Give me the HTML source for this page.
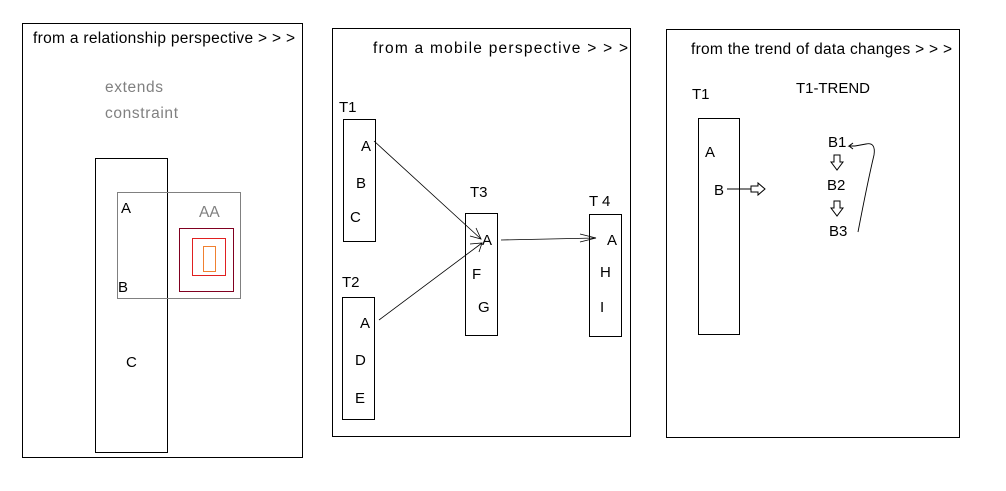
<!DOCTYPE html>
<html><head><meta charset="utf-8"><style>
html,body{margin:0;padding:0;background:#fff;}
svg{display:block;font-family:"Liberation Sans","Noto Sans CJK SC",sans-serif;font-size:15px;}
</style></head><body>
<svg width="1006" height="491" viewBox="0 0 1006 491">
<g fill="none" stroke-width="1">
  <rect x="22.5" y="23.5" width="280" height="434" stroke="#000"/>
  <text x="33" y="43" fill="#000" stroke="none" font-size="15.5" textLength="262" lengthAdjust="spacing">from a relationship perspective &gt; &gt; &gt;</text>
  <text x="105" y="92" fill="#808080" stroke="none" font-size="15.5" textLength="58">extends</text>
  <text x="105" y="118" fill="#808080" stroke="none" font-size="15.5" textLength="73">constraint</text>
  <rect x="95.5" y="158.5" width="72" height="294" stroke="#000"/>
  <rect x="117.5" y="192.5" width="123" height="106" stroke="#808080"/>
  <text x="121" y="213" fill="#000" stroke="none">A</text>
  <text x="118" y="292" fill="#000" stroke="none">B</text>
  <text x="126" y="367" fill="#000" stroke="none">C</text>
  <text x="199" y="217" fill="#808080" stroke="none" font-size="15.5">AA</text>
  <rect x="179.5" y="228.5" width="54" height="63" stroke="#800020"/>
  <rect x="192.5" y="238.5" width="33" height="37" stroke="#e02020"/>
  <rect x="203.5" y="246.5" width="12" height="25" stroke="#f08030"/>
</g>
<g fill="none">
  <rect x="332.5" y="28.5" width="298" height="408" stroke="#000"/>
  <text x="373" y="53" fill="#000" stroke="none" font-size="15.5" textLength="255" lengthAdjust="spacing">from a mobile perspective &gt; &gt; &gt;</text>
  <text x="339" y="112" fill="#000" stroke="none">T1</text>
  <rect x="343.5" y="119.5" width="32" height="122" stroke="#000"/>
  <text x="361" y="151" fill="#000" stroke="none">A</text>
  <text x="356" y="188" fill="#000" stroke="none">B</text>
  <text x="350" y="222" fill="#000" stroke="none">C</text>
  <text x="342" y="287" fill="#000" stroke="none">T2</text>
  <rect x="342.5" y="297.5" width="32" height="122" stroke="#000"/>
  <text x="360" y="328" fill="#000" stroke="none">A</text>
  <text x="355" y="365" fill="#000" stroke="none">D</text>
  <text x="355" y="403" fill="#000" stroke="none">E</text>
  <text x="470" y="197" fill="#000" stroke="none">T3</text>
  <rect x="465.5" y="213.5" width="32" height="122" stroke="#000"/>
  <text x="482" y="245" fill="#000" stroke="none">A</text>
  <text x="472" y="279" fill="#000" stroke="none">F</text>
  <text x="478" y="312" fill="#000" stroke="none">G</text>
  <text x="589" y="206" fill="#000" stroke="none">T 4</text>
  <rect x="589.5" y="214.5" width="32" height="122" stroke="#000"/>
  <text x="607" y="245" fill="#000" stroke="none">A</text>
  <text x="600" y="277" fill="#000" stroke="none">H</text>
  <text x="600" y="312" fill="#000" stroke="none">I</text>
  <g stroke="#000" stroke-width="0.8">
    <line x1="374" y1="141" x2="481" y2="239"/>
    <path d="M476 228 L481 239 L470 236"/>
    <line x1="379" y1="320" x2="482" y2="243"/>
    <path d="M470 244 L482 243 L479 252"/>
    <line x1="501" y1="240" x2="596" y2="238"/>
    <path d="M580 234 L596 238 L580 242"/>
  </g>
</g>
<g fill="none">
  <rect x="666.5" y="29.5" width="293" height="408" stroke="#000"/>
  <text x="691" y="54" fill="#000" stroke="none" font-size="15.5" textLength="261" lengthAdjust="spacing">from the trend of data changes &gt; &gt; &gt;</text>
  <text x="692" y="99" fill="#000" stroke="none">T1</text>
  <text x="796" y="93" fill="#000" stroke="none" textLength="74">T1-TREND</text>
  <rect x="698.5" y="118.5" width="41" height="216" stroke="#000"/>
  <text x="705" y="157" fill="#000" stroke="none">A</text>
  <text x="714" y="195" fill="#000" stroke="none">B</text>
  <line x1="727" y1="189" x2="751" y2="189" stroke="#000"/>
  <path d="M751 186 L758 186 L758 183 L765 189 L758 195 L758 192 L751 192 Z" stroke="#000"/>
  <text x="828" y="147" fill="#000" stroke="none">B1</text>
  <text x="827" y="190" fill="#000" stroke="none">B2</text>
  <text x="829" y="236" fill="#000" stroke="none">B3</text>
  <path d="M837 155 L837 162 L834 162 L840 170 L846 162 L843 162 L843 155 Z" stroke="#000" transform="translate(-3,0)"/>
  <path d="M837 201 L837 208 L834 208 L840 216 L846 208 L843 208 L843 201 Z" stroke="#000" transform="translate(-3,0)"/>
  <path d="M858 232 Q868 180 874 155 Q876 142 866 144 L855 146" stroke="#000" stroke-width="0.9"/>
  <path d="M855 146 L849 146 L853 143 M849 146 L853 149" stroke="#000"/>
</g>
</svg>
</body></html>
